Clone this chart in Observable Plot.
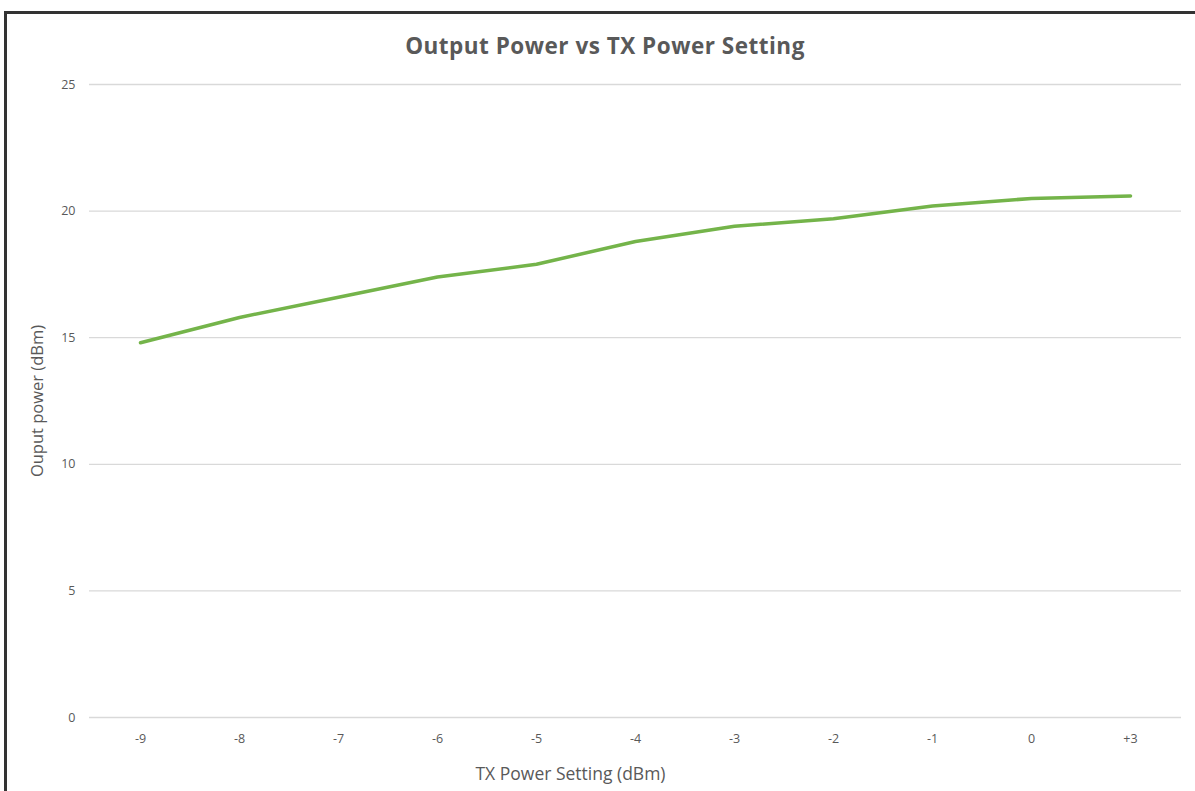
<!DOCTYPE html>
<html>
<head>
<meta charset="utf-8">
<script src="https://cdn.jsdelivr.net/npm/d3@7"></script>
<script src="https://cdn.jsdelivr.net/npm/@observablehq/plot@0.6"></script>
<style>
  html, body { margin: 0; padding: 0; background: #fff; overflow: hidden; }
  #wrap { position: relative; width: 1195px; height: 791px; }
  #frame { position: absolute; left: 4px; top: 11px; width: 1300px; height: 900px; border: 3px solid #333; box-sizing: border-box; }
  #title { position: absolute; left: 0; width: 1210px; top: 30px; text-align: center; font-family: "Open Sans", sans-serif; font-weight: 700; font-size: 22.5px; letter-spacing: 0.5px; color: #595959; }
  #chart { position: absolute; left: 0; top: 0; }
</style>
</head>
<body>
<div id="wrap">
  <div id="frame"></div>
  <div id="chart"></div>
  <div id="title">Output Power vs TX Power Setting</div>
</div>
<script>
const txSettings = ["-9", "-8", "-7", "-6", "-5", "-4", "-3", "-2", "-1", "0", "+3"];
const outputPower = [14.8, 15.8, 16.6, 17.4, 17.9, 18.8, 19.4, 19.7, 20.2, 20.5, 20.6];
const yTicks = [0, 5, 10, 15, 20, 25];

const data = txSettings.map((s, i) => ({ setting: s, power: outputPower[i] }));

const chart = Plot.plot({
  width: 1195,
  height: 791,
  marginTop: 84,
  marginBottom: 74,
  marginLeft: 89,
  marginRight: 14,
  style: { fontFamily: "'Open Sans', sans-serif", fontSize: "12px", color: "#595959", background: "transparent" },
  x: { type: "point", domain: txSettings, padding: 0.5, label: null },
  y: { domain: [0, 25], label: null },
  marks: [
    Plot.gridY(yTicks, { stroke: "#d9d9d9", strokeOpacity: 1, strokeWidth: 1.3 }),
    Plot.axisY(yTicks, { tickSize: 0, tickPadding: 14, fill: "#595959", fontSize: 12.5, label: null }),
    Plot.axisX({ tickSize: 0, tickPadding: 17, fill: "#595959", fontSize: 12.5, label: null }),
    Plot.text(["Ouput power (dBm)"], { frameAnchor: "left", textAnchor: "middle", dx: -52, rotate: -90, fontSize: 16.5, letterSpacing: "1.4px", fill: "#595959" }),
    Plot.text(["TX Power Setting (dBm)"], { frameAnchor: "bottom", textAnchor: "middle", dx: -65, dy: 62, fontSize: 17.5, fill: "#595959" }),
    Plot.line(data, { x: "setting", y: "power", stroke: "#74b44a", strokeWidth: 3.5, strokeLinecap: "round", strokeLinejoin: "round" })
  ]
});
document.getElementById("chart").appendChild(chart);
</script>
</body>
</html>
